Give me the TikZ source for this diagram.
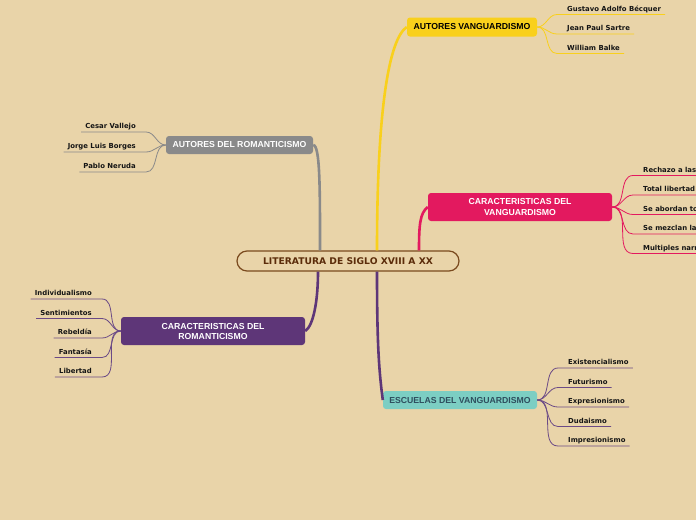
\documentclass[tikz,border=0pt]{standalone}
\usepackage{fontspec}
\setmainfont{Liberation Sans}
\newfontfamily\leaffont{DejaVu Sans}
\definecolor{bgc}{HTML}{E9D4A9}
\definecolor{litc}{HTML}{5B2C0A}
\definecolor{litb}{HTML}{7A4A1E}
\definecolor{sYel}{HTML}{F9D01C}
\definecolor{sPink}{HTML}{E3195F}
\definecolor{sGray}{HTML}{8A8A8A}
\definecolor{sPurp}{HTML}{5E3678}
\definecolor{sTeal}{HTML}{7CCEC3}
\definecolor{tealtxt}{HTML}{2E4E5E}
\definecolor{twigPurp}{HTML}{6B4A86}
\definecolor{leafc}{HTML}{151515}

\begin{document}
\begin{tikzpicture}[x=1pt,y=-1pt,
  branch/.style={rounded corners=3pt,inner sep=0pt,align=center,
    font=\bfseries\fontsize{8.7}{10}\selectfont},
  leaf/.style={inner sep=0pt,text=leafc,
    font=\leaffont\bfseries\fontsize{6.9}{8}\selectfont},
  stem/.style={line width=2.6pt},
  twig/.style={line width=0.8pt}]
  \useasboundingbox (0,0) rectangle (696,520);
  \fill[bgc] (0,0) rectangle (696,520);

  % central topic
  \node[draw=litb,line width=1.2pt,rounded corners=10pt,minimum width=222pt,
    minimum height=20pt,inner sep=0pt,text=litc,
    font=\leaffont\bfseries\fontsize{9.2}{10}\selectfont] (lit) at (348,261)
    {LITERATURA DE SIGLO XVIII A XX};

  % branches
  \node[branch,fill=sYel,minimum width=130pt,minimum height=19pt] (autv) at (472,27)
    {AUTORES VANGUARDISMO};
  \node[branch,fill=sPink,text=white,minimum width=184pt,minimum height=28pt] (carv) at (520,207)
    {CARACTERISTICAS DEL\\VANGUARDISMO};
  \node[branch,fill=sGray,text=white,minimum width=147pt,minimum height=18pt] (autr) at (239.5,145)
    {AUTORES DEL ROMANTICISMO};
  \node[branch,fill=sPurp,text=white,minimum width=184pt,minimum height=28pt] (carr) at (213,331)
    {CARACTERISTICAS DEL\\ROMANTICISMO};
  \node[branch,fill=sTeal,text=tealtxt,minimum width=154pt,minimum height=18pt] (escv) at (460,400)
    {ESCUELAS DEL VANGUARDISMO};

  % stems
  \draw[stem,sYel] ([xshift=29pt]lit.north) .. controls +(0,-140) and +(-18,12) .. (autv.west);
  \draw[stem,sPink] ([xshift=71pt]lit.north) .. controls +(0,-25) and +(-8,6) .. (carv.west);
  \draw[stem,sGray] (autr.east) .. controls +(7,0) and +(0,-60) .. ([xshift=-28pt]lit.north);
  \draw[stem,sPurp] (carr.east) .. controls +(8,-5) and +(0,30) .. ([xshift=-30pt]lit.south);
  \draw[stem,sPurp] ([xshift=29pt]lit.south) .. controls +(0,70) and +(-4,-30) .. (escv.west);

  % leaves, right side
  \foreach \i/\yy/\name in {1/14.5/Gustavo Adolfo Bécquer, 2/34/Jean Paul Sartre,
      3/53.5/William Balke}{
    \coordinate (av\i-in) at (557,\yy);
    \node[leaf,anchor=base west] (av\i) at (567,{\yy-3.5}) {\name};
    \draw[twig,sYel] (autv.east) to[out=0,in=180] (av\i-in) -- (av\i-in -| av\i.east) -- ++(4,0);}
  \foreach \i/\yy/\name in {1/175.5/Rechazo a las, 2/195/Total libertad,
      3/214.5/Se abordan to, 4/234/Se mezclan la, 5/253.5/Multiples narr}{
    \coordinate (cv\i-in) at (633,\yy);
    \node[leaf,anchor=base west] (cv\i) at (643,{\yy-3.5}) {\name};
    \draw[twig,sPink] (carv.east) to[out=0,in=180] (cv\i-in) -- (cv\i-in -| cv\i.east) -- ++(4,0);}
  \foreach \i/\yy/\name in {1/368/Existencialismo, 2/387.5/Futurismo, 3/407/Expresionismo,
      4/426.5/Dudaismo, 5/446/Impresionismo}{
    \coordinate (ev\i-in) at (558,\yy);
    \node[leaf,anchor=base west] (ev\i) at (568,{\yy-3.5}) {\name};
    \draw[twig,twigPurp] (escv.east) to[out=0,in=180] (ev\i-in) -- (ev\i-in -| ev\i.east) -- ++(4,0);}

  % leaves, left side
  \foreach \i/\yy/\name in {1/132/Cesar Vallejo, 2/152/Jorge Luis Borges, 3/172/Pablo Neruda}{
    \coordinate (ar\i-in) at (146,\yy);
    \node[leaf,anchor=base east] (ar\i) at (136,{\yy-3.5}) {\name};
    \draw[twig,sGray] (autr.west) to[out=180,in=0] (ar\i-in) -- (ar\i-in -| ar\i.west) -- ++(-4,0);}
  \foreach \i/\yy/\name in {1/299/Individualismo, 2/318.5/Sentimientos, 3/338/Rebeldía,
      4/357.5/Fantasía, 5/377/Libertad}{
    \coordinate (cr\i-in) at (102,\yy);
    \node[leaf,anchor=base east] (cr\i) at (92,{\yy-3.5}) {\name};
    \draw[twig,twigPurp] (carr.west) to[out=180,in=0] (cr\i-in) -- (cr\i-in -| cr\i.west) -- ++(-4,0);}
\end{tikzpicture}
\end{document}
